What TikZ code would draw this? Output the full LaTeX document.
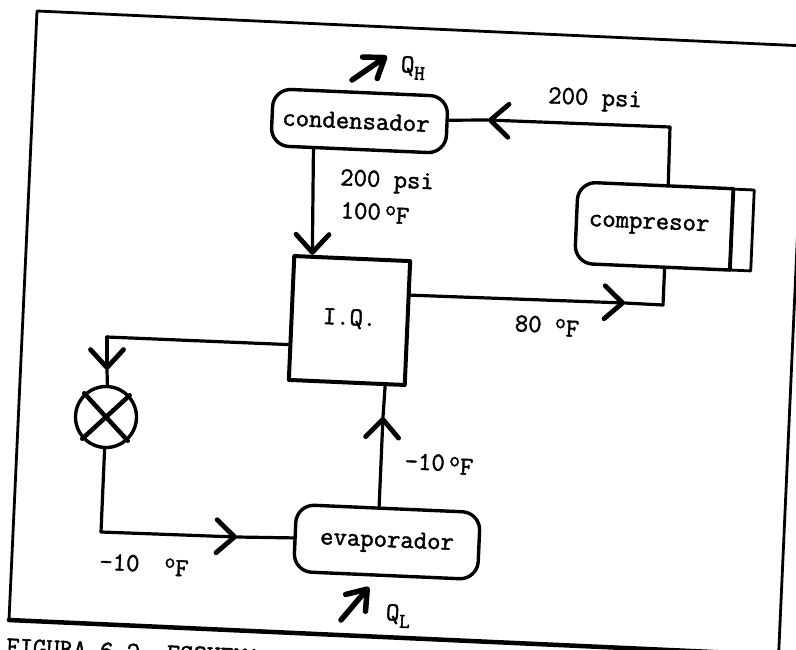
\documentclass[tikz,border=0pt]{standalone}
\usepackage{amsmath,amssymb,amsfonts}
\usepackage{fontspec}
\setmonofont{Latin Modern Mono}[FakeBold=1.6]
\usepackage{tikz}
\usetikzlibrary{arrows.meta}
\newcommand{\degF}{\raisebox{5pt}{\fontsize{21}{21}\selectfont o}\raisebox{-3pt}{F}}
\newcommand{\lowsub}[1]{\raisebox{-7pt}{\fontsize{21}{21}\selectfont #1}}
\tikzset{
  every node/.style={rotate=-2.5, font=\fontsize{26}{26}\selectfont\ttfamily, inner sep=0pt},
  unit/.style={draw, line width=3.4pt, rounded corners=18pt, inner sep=0pt},
  wire/.style={line width=3.2pt},
  flow/.style={line width=3.2pt, -{Straight Barb[length=18pt, width=33pt, line width=4.8pt, round]}},
  heat/.style={line width=5.5pt, -{Straight Barb[length=18pt, width=26pt, line width=5.5pt, round]}},
}
\begin{document}
\begin{tikzpicture}[x=1pt, y=-1pt, line join=round, line cap=round]
\clip (0,0) rectangle (796,649);
% outer frame
\coordinate (TL) at (37,11);
\coordinate (TR) at (806,46);
\coordinate (BL) at (9,620);
\coordinate (BR) at (778.6,655);
\draw[line width=2.8pt] (BL) -- (TL) -- (TR) -- (BR);
\draw[line width=4.5pt] (BL) -- (BR);
% units
\node[unit, minimum width=175pt, minimum height=57pt] (cond) at (359.5,121) {condensador\hspace*{7pt}};
\node[unit, minimum width=184pt, minimum height=67pt] (evap) at (387,542) {evaporador};
\node[draw, line width=4pt, minimum width=116pt, minimum height=124pt] (iq) at (349.5,320.5) {\raisebox{7pt}{I.Q.}};
\node[minimum width=155pt, minimum height=81pt] (comp) at (654,226) {compresor\hspace*{10pt}};
\node[draw, line width=2.8pt, minimum width=21pt, minimum height=81pt] (tail) at (742,230) {};
\draw[line width=3.4pt, rounded corners=18pt] (comp.north east) -- (comp.north west) -- (comp.south west) -- (comp.south east);
\draw[line width=3.8pt] (comp.north east) -- (comp.south east);
% expansion valve
\node[draw, circle, line width=3.4pt, minimum size=61pt] (valve) at (106,417) {};
\draw[line width=4.5pt] (valve.135) -- (valve.-45);
\draw[line width=4.5pt] (valve.45) -- (valve.-135);
% flow lines
\coordinate (c1) at (670,127);
\coordinate (a1) at (488,120);
\draw[wire] (comp.73) -- (c1);
\draw[flow] (c1) -- (a1);
\draw[wire] (a1) -- (cond.3);
\draw[flow] (cond.214) -- (iq.122);
\coordinate (c2) at (663,305);
\coordinate (a2) at (625,303);
\draw[flow] (iq.25) -- (a2);
\draw[wire] (a2) -- (c2) -- (comp.287);
\coordinate (c3) at (107,337);
\coordinate (a3) at (107,370);
\draw[wire] (iq.204) -- (c3);
\draw[flow] (c3) -- (a3);
\draw[wire] (a3) -- (valve.north);
\coordinate (c4) at (101,532);
\coordinate (a4) at (237,537);
\draw[wire] (valve.south) -- (c4);
\draw[flow] (c4) -- (a4);
\draw[wire] (a4) -- (evap.west);
\coordinate (a5) at (383,417);
\draw[flow] (evap.105) -- (a5);
\draw[wire] (a5) -- (iq.301);
% heat arrows
\coordinate (qh0) at (352,80);
\coordinate (qh1) at (387,56);
\coordinate (ql0) at (341,620);
\coordinate (ql1) at (369,587);
\draw[heat] (qh0) -- (qh1);
\draw[heat] (ql0) -- (ql1);
% labels
\node (qh) at (413,68) {Q\lowsub{H}};
\node (ql) at (398,616) {Q\lowsub{L}};
\node (ptop) at (595,100) {200 psi};
\node (pmid) at (387,182) {200 psi};
\node (tmid) at (375,213) {100\,\degF};
\node (tcomp) at (547,326) {80 \degF};
\node (tevap) at (439,464) {-10\,\degF};
\node (tvalve) at (144,565) {-10\hspace{25pt}\degF};
\node[anchor=west] (cap) at (6,648) {FIGURA 6.2. ESQUEMA};
\end{tikzpicture}
\end{document}
